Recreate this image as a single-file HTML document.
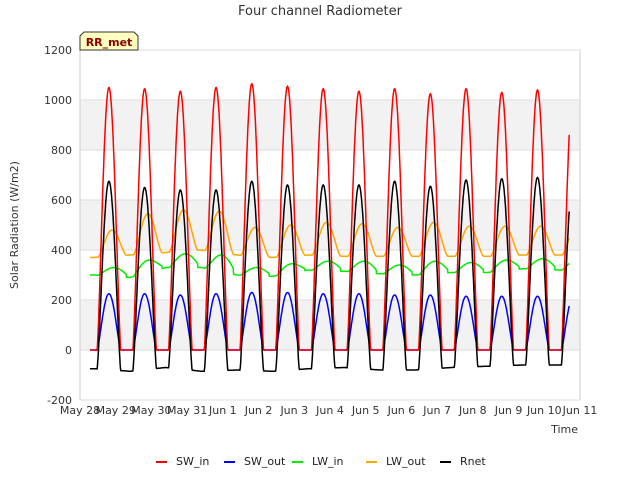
<!DOCTYPE html>
<html><head><meta charset="utf-8"><style>
body{margin:0;background:#fff;font-family:"Liberation Sans","DejaVu Sans",sans-serif;}
svg text{font-family:"DejaVu Sans","Liberation Sans",sans-serif;}
</style></head><body>
<svg id="chart" width="640" height="480" viewBox="0 0 640 480">
<rect width="640" height="480" fill="#fff"/>
<g id="bands"></g>
<rect x="80" y="50" width="500" height="350" fill="none" stroke="#ccc"/>
<g id="grid"></g>
<g id="series"></g>
<g id="axes"></g>
<text x="320" y="15" text-anchor="middle" font-size="13" fill="#333">Four channel Radiometer</text>
<text x="18" y="225" text-anchor="middle" font-size="11" fill="#333" transform="rotate(-90 18 225)">Solar Radiation (W/m2)</text>
<text x="578" y="433" text-anchor="end" font-size="11" fill="#333">Time</text>
<g>
<path d="M80,50 L80,36 L84,32 L134,32 L138,36 L138,50 Z" fill="#ffffc0" stroke="#333"/>
<text x="109" y="46" text-anchor="middle" font-size="11" font-weight="bold" fill="#8b0000">RR_met</text>
</g>
<g id="legend"></g>
</svg>
<script>
const yTicks=[-200,0,200,400,600,800,1000,1200];
const xTickLabels=["May 28","May 29","May 30","May 31","Jun 1","Jun 2","Jun 3","Jun 4","Jun 5","Jun 6","Jun 7","Jun 8","Jun 9","Jun 10","Jun 11"];
const seriesNames=["SW_in","SW_out","LW_in","LW_out","Rnet"];
const seriesColors=["#ff0000","#0000ff","#00ee00","#ffa500","#000000"];
const swInPeak=[1050,1045,1035,1050,1065,1055,1045,1035,1045,1025,1045,1030,1040,1050];
const swOutPeak=[225,225,220,225,230,230,225,225,220,220,215,215,215,215];
const rnetPeak=[675,650,640,640,675,660,660,660,675,655,680,685,690,690];
const rnetNight=[-75,-85,-70,-85,-80,-85,-75,-70,-80,-80,-70,-65,-60,-60];
const lwOutBase=[370,380,390,400,380,370,380,375,375,375,375,375,380,380];
const lwOutPeak=[480,545,560,555,490,500,510,505,490,510,495,495,495,495];
const lwInBase=[300,290,330,330,300,295,320,315,305,300,310,310,325,320];
const lwInPeak=[330,360,385,380,330,345,355,355,340,355,350,360,365,365];
const NS="http://www.w3.org/2000/svg";
const X=d=>80+d*500/14, Y=v=>350-v*0.25;
function mk(tag,attrs,parent){const e=document.createElementNS(NS,tag);for(const k in attrs)e.setAttribute(k,attrs[k]);parent.appendChild(e);return e;}
const bands=document.getElementById('bands'),grid=document.getElementById('grid'),axes=document.getElementById('axes');
for(let i=0;i<yTicks.length-1;i++){
  if(i%2===1){const b=mk('rect',{x:80,y:Y(yTicks[i+1]),width:500,height:Y(yTicks[i])-Y(yTicks[i+1]),fill:'#f2f2f2'},bands);
  
  }
}
yTicks.forEach(v=>{
  const l=mk('line',{x1:80,x2:580,y1:Y(v),y2:Y(v),stroke:'#ddd'},grid);
  
  
  const t=mk('text',{x:72,y:Y(v)+4,'text-anchor':'end','font-size':11,fill:'#333'},axes);
  t.textContent=v;
  
  
});
xTickLabels.forEach((s,i)=>{
  const t=mk('text',{x:X(i),y:414,'text-anchor':'middle','font-size':11,fill:'#333'},axes);
  t.textContent=s;
  
  
});
function sh(t,k,a,b,p){const u=(t-k-a)/(b-a);return (u>0&&u<1)?Math.pow(Math.sin(Math.PI*u),p):0;}
function lerpArr(arr,t){ // arrays indexed by cycle, centered at k+0.4 (pre-dawn)
  const f=Math.min(arr.length-1,Math.max(0,t-0.4));const i=Math.floor(f),j=Math.min(arr.length-1,i+1),w=f-i;
  return arr[i]*(1-w)+arr[j]*w;
}
function val(name,t){
  const k=Math.min(13,Math.max(0,Math.floor(t-0.3)));
  const s=sh(t,k,0.48,1.14,1.3);
  switch(name){
    case "SW_in":return swInPeak[k]*s;
    case "SW_out":return swOutPeak[k]*s;
    case "Rnet":{const n=lerpArr(rnetNight,t);return n+(rnetPeak[k]-n)*s;}
    case "LW_out":{const b=lerpArr(lwOutBase,t);return b+(lwOutPeak[k]-b)*sh(t,k,0.5,1.3,1.5);}
    case "LW_in":{const b=lerpArr(lwInBase,t);return b+(lwInPeak[k]-b)*sh(t,k,0.5,1.4,1.2);}
  }
}
const series=document.getElementById('series');
const order=["LW_in","LW_out","SW_out","SW_in","Rnet"];
order.forEach(n=>{
  const i=seriesNames.indexOf(n);let d="";
  for(let t=0.28;t<=13.7;t+=1/96){d+=(d?"L":"M")+X(t).toFixed(1)+","+Y(val(n,t)).toFixed(1);}
  const p=mk('path',{d:d,fill:'none',stroke:seriesColors[i],'stroke-width':1.5},series);
  
  
});
const legend=document.getElementById('legend');
const lx=[156,224,292,366,440];
seriesNames.forEach((n,i)=>{
  const g=mk('g',{},legend);
  
  
  mk('line',{x1:lx[i],x2:lx[i]+11,y1:462,y2:462,stroke:seriesColors[i],'stroke-width':2},g);
  const t=mk('text',{x:lx[i]+20,y:465,'font-size':11,fill:'#222'},g);t.textContent=n;
});
</script>
</body></html>
